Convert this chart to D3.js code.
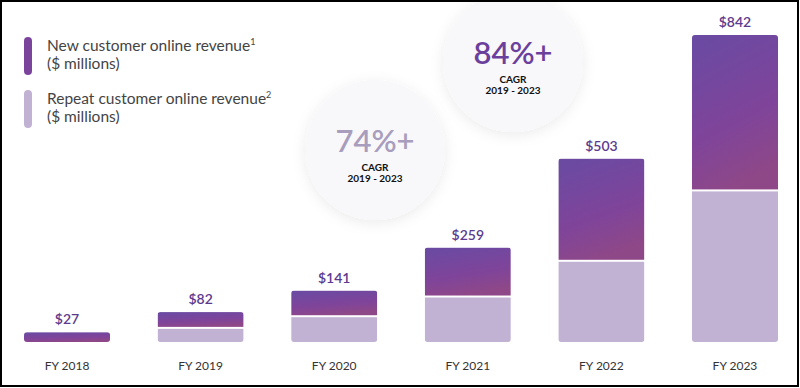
<!DOCTYPE html>
<html>
<head>
<meta charset="utf-8">
<script src="https://cdn.jsdelivr.net/npm/d3@7"></script>
<style>
  html, body { margin: 0; padding: 0; background: #fff; }
  svg { display: block; font-family: Lato, "Noto Sans", sans-serif; }
</style>
</head>
<body>
<div id="chart"></div>
<script>
// values ($ millions)
var years = ["FY 2018", "FY 2019", "FY 2020", "FY 2021", "FY 2022", "FY 2023"];
var totals = [27, 82, 141, 259, 503, 842];
var repeatRev = [0, 36, 68, 122, 220, 413];
var newRev = [27, 46, 73, 137, 283, 429];
var totalLabels = ["$27", "$82", "$141", "$259", "$503", "$842"];

var cagrLabels = ["74%+", "84%+"];
var cagrPeriod = "2019 - 2023";

var width = 800, height = 388;

var svg = d3.select("#chart")
    .append("svg")
    .attr("width", width)
    .attr("height", height);

var defs = svg.append("defs");

var grad = defs.append("linearGradient")
    .attr("id", "newGrad")
    .attr("x1", 0.2).attr("y1", 0)
    .attr("x2", 0.5).attr("y2", 1);
grad.append("stop").attr("offset", "0%").attr("stop-color", "#6b4aa2");
grad.append("stop").attr("offset", "60%").attr("stop-color", "#7f449a");
grad.append("stop").attr("offset", "100%").attr("stop-color", "#8f4887");

var shadow = defs.append("filter")
    .attr("id", "soft")
    .attr("x", "-30%").attr("y", "-30%")
    .attr("width", "160%").attr("height", "160%");
shadow.append("feDropShadow")
    .attr("dx", 0).attr("dy", 3)
    .attr("stdDeviation", 7)
    .attr("flood-color", "#000")
    .attr("flood-opacity", 0.08);

// scales
var x = d3.scaleBand()
    .domain(years)
    .range([24, 778])
    .paddingInner(0.356)
    .paddingOuter(0);

var y = d3.scaleLinear()
    .domain([0, 842])
    .range([342, 35]);

// CAGR bubbles
var bubbles = [
  {label: cagrLabels[0], cx: 375, cy: 150, r: 70, color: "#a99dbd"},
  {label: cagrLabels[1], cx: 513, cy: 62, r: 70, color: "#6b3f9c"}
];

var bub = svg.selectAll("g.bubble")
    .data(bubbles)
    .enter().append("g")
    .attr("class", "bubble")
    .attr("transform", function(d) { return "translate(" + d.cx + "," + d.cy + ")"; });

bub.append("circle")
    .attr("r", function(d) { return d.r; })
    .attr("fill", "#f8f8fa")
    .attr("filter", "url(#soft)");

bub.append("text")
    .attr("text-anchor", "middle")
    .attr("y", 2)
    .attr("font-size", 31)
    .attr("font-weight", 600)
    .attr("fill", function(d) { return d.color; })
    .text(function(d) { return d.label; });

bub.append("text")
    .attr("text-anchor", "middle")
    .attr("y", 21)
    .attr("font-size", 10)
    .attr("font-weight", 700)
    .attr("fill", "#111")
    .text("CAGR");

bub.append("text")
    .attr("text-anchor", "middle")
    .attr("y", 32)
    .attr("font-size", 10)
    .attr("font-weight", 700)
    .attr("fill", "#111")
    .text(cagrPeriod);

// bars
var bars = svg.selectAll("g.bar")
    .data(years)
    .enter().append("g")
    .attr("class", "bar");

bars.each(function(yr, i) {
  var g = d3.select(this);
  var x0 = x(yr), bw = x.bandwidth();
  var clipId = "clip" + i;

  defs.append("clipPath").attr("id", clipId)
    .append("rect")
    .attr("x", x0).attr("y", y(totals[i]))
    .attr("width", bw).attr("height", y(0) - y(totals[i]))
    .attr("rx", 3);

  var inner = g.append("g").attr("clip-path", "url(#" + clipId + ")");

  if (repeatRev[i] > 0) {
    inner.append("rect")
      .attr("x", x0).attr("y", y(repeatRev[i]))
      .attr("width", bw).attr("height", y(0) - y(repeatRev[i]))
      .attr("fill", "#c1b1d3");
  }

  var gap = repeatRev[i] > 0 ? 2 : 0;
  inner.append("rect")
    .attr("x", x0).attr("y", y(totals[i]))
    .attr("width", bw)
    .attr("height", y(repeatRev[i]) - y(totals[i]) - gap)
    .attr("fill", "url(#newGrad)");

  g.append("text")
    .attr("x", x0 + bw / 2)
    .attr("y", y(totals[i]) - 8)
    .attr("text-anchor", "middle")
    .attr("font-size", 14)
    .attr("font-weight", 600)
    .attr("fill", "#5c3b8e")
    .text(totalLabels[i]);

  g.append("text")
    .attr("x", x0 + bw / 2)
    .attr("y", 370)
    .attr("text-anchor", "middle")
    .attr("font-size", 12)
    .attr("fill", "#333")
    .text(yr);
});

// legend
var legend = [
  {title: "New customer online revenue", sup: "1", color: "#7b449c", y0: 37},
  {title: "Repeat customer online revenue", sup: "2", color: "#c1b1d3", y0: 90}
];

var lg = svg.selectAll("g.legend")
    .data(legend)
    .enter().append("g")
    .attr("class", "legend");

lg.append("rect")
    .attr("x", 24).attr("y", function(d) { return d.y0; })
    .attr("width", 8).attr("height", 38)
    .attr("rx", 4)
    .attr("fill", function(d) { return d.color; });

var t1 = lg.append("text")
    .attr("x", 47).attr("y", function(d) { return d.y0 + 14; })
    .attr("font-size", 15.5)
    .attr("fill", "#444");
t1.append("tspan").text(function(d) { return d.title; });
t1.append("tspan")
    .attr("font-size", 9)
    .attr("dy", -6)
    .text(function(d) { return d.sup; });

lg.append("text")
    .attr("x", 47).attr("y", function(d) { return d.y0 + 32; })
    .attr("font-size", 15.5)
    .attr("fill", "#444")
    .text("($ millions)");

// frame
svg.append("rect")
    .attr("x", 1).attr("y", 1)
    .attr("width", width - 3).attr("height", height - 3)
    .attr("fill", "none")
    .attr("stroke", "#000")
    .attr("stroke-width", 2);
</script>
</body>
</html>
